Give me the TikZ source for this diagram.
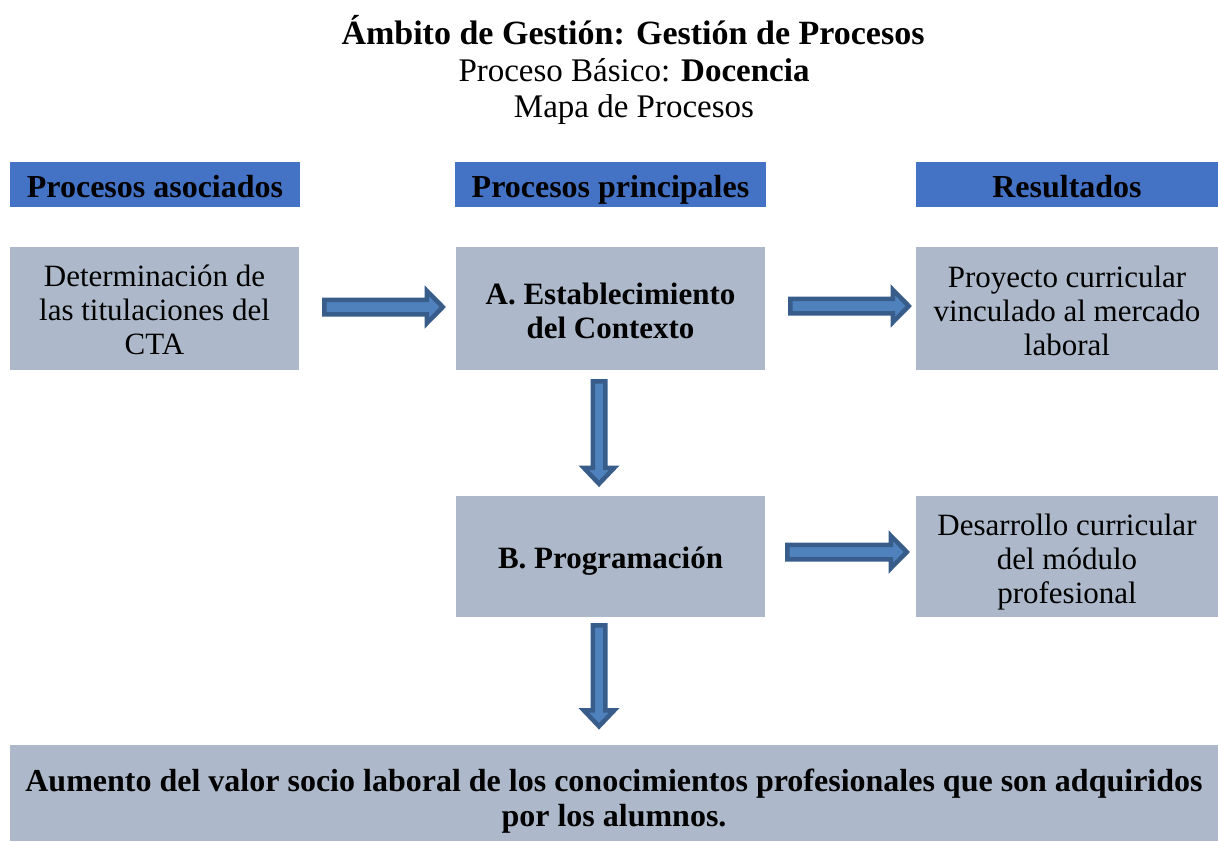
\documentclass[tikz,border=0pt]{standalone}
\usepackage{fontspec}
\setmainfont{Liberation Serif}
\usetikzlibrary{calc}
\definecolor{hdr}{HTML}{4472C4}
\definecolor{boxc}{HTML}{ADB9CA}
\definecolor{arrowfill}{HTML}{4F81BD}
\definecolor{arrowline}{HTML}{385D8A}
\newcommand{\lift}[1]{\rule{0pt}{#1}}
\tikzset{
  hdrbox/.style={rectangle, fill=hdr, inner sep=0pt, minimum height=45pt, text height=30pt, text depth=5pt, font=\fontsize{32}{34}\selectfont\bfseries, text=black},
  procbox/.style={rectangle, fill=boxc, inner sep=0pt, align=center, font=\fontsize{31}{34}\selectfont},
  barrow/.style={fill=arrowfill, draw=arrowline, line width=4.5pt, line join=miter},
  ttl/.style={inner sep=0pt, align=center}
}
\newcommand{\harr}[2]{%
  \draw[barrow] let \p1=(#1), \p2=(#2) in
    (\x1+2.25pt,\y1+7.25pt) -- (\x2-19pt,\y1+7.25pt) -- (\x2-19pt,\y1+16.25pt) -- (\x2-3pt,\y1)
    -- (\x2-19pt,\y1-16.25pt) -- (\x2-19pt,\y1-7.25pt) -- (\x1+2.25pt,\y1-7.25pt) -- cycle;}
\newcommand{\varr}[2]{%
  \draw[barrow] let \p1=(#1), \p2=(#2) in
    (\x1-6.25pt,\y1-2.25pt) -- (\x1-6.25pt,\y2+19pt) -- (\x1-15.25pt,\y2+19pt) -- (\x1,\y2+3pt)
    -- (\x1+15.25pt,\y2+19pt) -- (\x1+6.25pt,\y2+19pt) -- (\x1+6.25pt,\y1-2.25pt) -- cycle;}
\begin{document}
\begin{tikzpicture}[x=1pt,y=-1pt]
\useasboundingbox (0,0) rectangle (1218,841);
% titles
\node[ttl, font=\fontsize{34}{38}\selectfont\bfseries] (t1) at (633,30) {Ámbito de Gestión: Gestión de Procesos};
\node[ttl, font=\fontsize{33}{38}\selectfont] (t2) at (634,70) {Proceso Básico: \textbf{Docencia}};
\node[ttl, font=\fontsize{33}{38}\selectfont] (t3) at (634,110) {Mapa de Procesos};
% headers
\node[hdrbox, minimum width=290pt] (h1) at (155,184.5) {Procesos asociados};
\node[hdrbox, minimum width=311pt] (h2) at (610.5,184.5) {Procesos principales};
\node[hdrbox, minimum width=302pt] (h3) at (1067,184.5) {Resultados};
% boxes
\node[procbox, minimum width=289pt, minimum height=123pt] (a1) at (154.5,308.5) {\lift{25pt}Determinación de\\las titulaciones del\\CTA};
\node[procbox, minimum width=309pt, minimum height=123pt, font=\fontsize{31}{34}\selectfont\bfseries] (pA) at (610.5,308.5) {\lift{26pt}A. Establecimiento\\del Contexto};
\node[procbox, minimum width=302pt, minimum height=123pt] (r1) at (1067,308.5) {\lift{26pt}Proyecto curricular\\vinculado al mercado\\laboral};
\node[procbox, minimum width=309pt, minimum height=121pt, font=\fontsize{31}{34}\selectfont\bfseries] (pB) at (610.5,556.5) {\lift{30pt}B. Programación};
\node[procbox, minimum width=302pt, minimum height=121pt] (r2) at (1067,556.5) {\lift{32pt}Desarrollo curricular\\del módulo\\profesional};
\node[procbox, minimum width=1208pt, minimum height=96pt, font=\fontsize{32}{35}\selectfont\bfseries] (out) at (614,792.5) {\lift{39pt}Aumento del valor socio laboral de los conocimientos profesionales que son adquiridos\\por los alumnos.};
% connectors
\coordinate (s1) at ($(a1.east)+(23,-1.5)$);
\coordinate (e1) at ($(pA.west)+(-10,-1.5)$);
\harr{s1}{e1}
\coordinate (s2) at ($(pA.east)+(23,-2.5)$);
\coordinate (e2) at ($(r1.west)+(-4,-2.5)$);
\harr{s2}{e2}
\coordinate (s3) at ($(pB.east)+(20,-4.5)$);
\coordinate (e3) at ($(r2.west)+(-6,-4.5)$);
\harr{s3}{e3}
\coordinate (s4) at ($(pA.south)+(-11.5,9)$);
\coordinate (e4) at ($(pB.north)+(-11.5,-9)$);
\varr{s4}{e4}
\coordinate (s5) at ($(pB.south)+(-11.5,6)$);
\coordinate (e5) at ($(out.north)+(-15,-15)$);
\varr{s5}{e5}
\end{tikzpicture}
\end{document}
